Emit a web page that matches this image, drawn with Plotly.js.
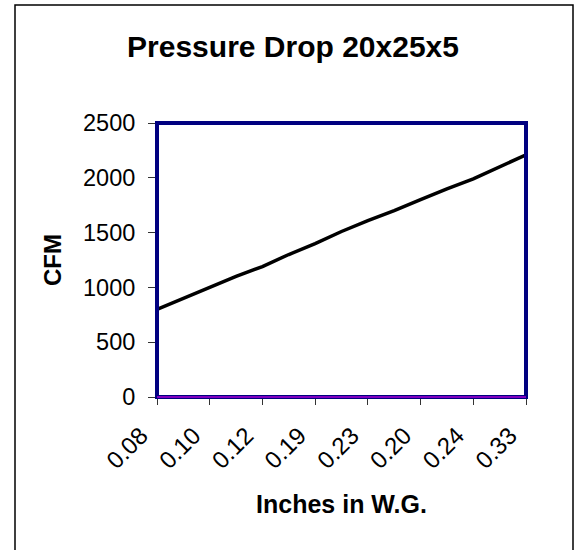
<!DOCTYPE html>
<html>
<head>
<meta charset="utf-8">
<script src="https://cdn.plot.ly/plotly-3.0.1.min.js"></script>
<style>
  html, body { margin: 0; padding: 0; background: #ffffff; }
  #chart { width: 581px; height: 550px; }
</style>
</head>
<body>
<div id="chart"></div>
<script>
// Category tick labels (pressure drop, inches W.G.) – labels shown every other point
const pressureLabels = ['0.08', '0.10', '0.12', '0.19', '0.23', '0.20', '0.24', '0.33'];
// Airflow values (CFM), one per half category step
const cfmValues = [800, 900, 1000, 1100, 1190, 1300, 1400, 1510, 1610, 1700, 1800, 1900, 1990, 2100, 2210];
const chartTitle = 'Pressure Drop 20x25x5';
const xTitle = 'Inches in W.G.';
const yTitle = 'CFM';

const W = 581, H = 550;
const M = { l: 157, r: 55, t: 123, b: 153 };
const plotW = W - M.l - M.r, plotH = H - M.t - M.b;
const px2x = p => (p - M.l) / plotW;
const py2y = p => (H - M.b - p) / plotH;

const xPos = cfmValues.map((_, i) => i / 2);
const tickPos = pressureLabels.map((_, i) => i);

const trace = {
  x: xPos,
  y: cfmValues,
  type: 'scatter',
  mode: 'lines',
  line: { color: '#000000', width: 3.5 },
  hoverinfo: 'x+y',
  showlegend: false
};

const font = 'Liberation Sans, Arial, sans-serif';

const layout = {
  width: W, height: H,
  margin: M,
  paper_bgcolor: '#ffffff',
  plot_bgcolor: '#ffffff',
  font: { family: font, color: '#000000' },
  title: {
    text: chartTitle,
    font: { family: font, size: 30, weight: 'bold', color: '#000000' },
    xref: 'container', x: 293 / W, xanchor: 'center',
    yref: 'container', y: 1 - 46 / H, yanchor: 'middle'
  },
  xaxis: {
    range: [0, pressureLabels.length - 1],
    tickmode: 'array',
    tickvals: tickPos,
    ticktext: pressureLabels,
    tickangle: -45,
    ticks: 'outside', ticklen: 7, tickwidth: 1, tickcolor: '#333333',
    ticklabelshift: -16,
    ticklabelstandoff: 7,
    tickfont: { family: font, size: 24, color: '#000000' },
    showgrid: false, zeroline: false, showline: false,
    title: { text: xTitle, font: { family: font, size: 25, weight: 'bold' }, standoff: 22 }
  },
  yaxis: {
    range: [0, 2500],
    tickmode: 'linear', tick0: 0, dtick: 500,
    ticks: 'outside', ticklen: 8, tickwidth: 1, tickcolor: '#333333',
    ticklabelstandoff: 8,
    tickfont: { family: font, size: 23.5, color: '#000000' },
    showgrid: false, zeroline: false, showline: false,
    title: { text: yTitle, font: { family: font, size: 24, weight: 'bold' }, standoff: 14 }
  },
  shapes: [
    { type: 'rect', xref: 'paper', yref: 'paper', x0: 0, x1: 1, y0: 0, y1: 1,
      line: { color: '#000080', width: 4 }, layer: 'above' },
    { type: 'line', xref: 'paper', yref: 'paper', x0: 0, x1: 1, y0: 0, y1: 0,
      line: { color: '#ff00ff', width: 1 }, layer: 'above' },
    { type: 'rect', xref: 'paper', yref: 'paper',
      x0: px2x(15), x1: px2x(573), y0: py2y(565), y1: py2y(5),
      line: { color: '#000000', width: 1.5 }, layer: 'above' }
  ]
};

Plotly.newPlot('chart', [trace], layout, { displayModeBar: false, staticPlot: true });
</script>
</body>
</html>
